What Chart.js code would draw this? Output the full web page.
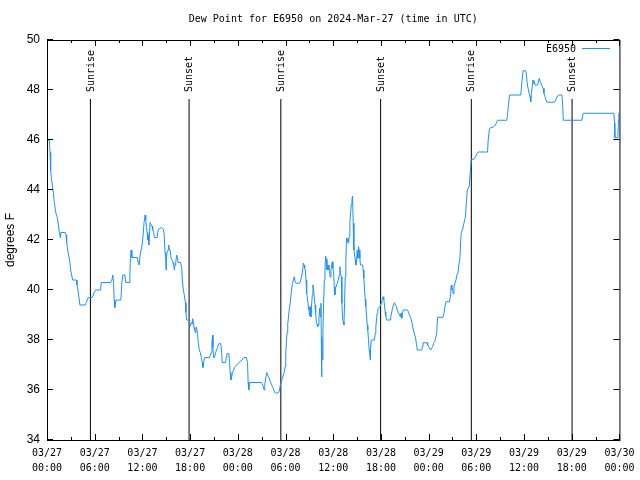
<!DOCTYPE html>
<html>
<head>
<meta charset="utf-8">
<title>Dew Point for E6950</title>
<script src="https://cdn.jsdelivr.net/npm/chart.js@4.4.1/dist/chart.umd.min.js"></script>
<style>
    html, body { margin: 0; padding: 0; background: #fff; }
    canvas { display: block; }
</style>
</head>
<body>
<canvas id="dewChart" width="640" height="480"></canvas>
<script>
// hours after 03/27 00:00 UTC
const hours = [
    0, 0.30, 0.38, 0.46, 0.55, 0.67, 0.80, 0.92, 1.05, 1.18, 1.30, 1.43, 1.55, 1.68, 1.72, 2.30, 2.39, 2.47, 2.60, 2.72,
    2.85, 2.97, 3.10, 3.22, 3.68, 3.77, 3.89, 4.02, 4.14, 4.81, 4.94, 5.06, 5.19, 5.69, 5.82, 5.94, 6.11, 6.74, 6.82, 7.99,
    8.16, 8.28, 8.37, 8.45, 8.53, 8.62, 8.74, 9.29, 9.41, 9.54, 9.79, 9.91, 10.33, 10.42, 10.50, 10.58, 10.67, 11.38, 11.46, 11.59,
    11.71, 11.84, 11.96, 12.09, 12.21, 12.34, 12.42, 12.51, 12.59, 12.67, 12.76, 12.80, 12.88, 12.97, 13.09, 13.22, 13.30, 13.43, 13.51, 13.85,
    13.97, 14.10, 14.39, 14.60, 14.72, 14.85, 14.93, 14.97, 15.02, 15.10, 15.22, 15.31, 15.39, 15.48, 15.60, 15.73, 15.85, 15.94, 16.02, 16.10,
    16.19, 16.31, 16.40, 16.48, 16.81, 16.94, 17.02, 17.15, 17.27, 17.40, 17.48, 17.57, 17.82, 17.94, 18.03, 18.15, 18.24, 18.32, 18.40, 18.49,
    18.57, 18.65, 18.74, 18.82, 18.90, 19.03, 19.15, 19.28, 19.41, 19.53, 19.61, 19.70, 19.82, 20.45, 20.54, 20.66, 20.74, 20.83, 20.87, 20.95,
    21.08, 21.20, 21.33, 21.45, 21.58, 21.87, 21.96, 22.04, 22.46, 22.54, 22.62, 22.88, 22.96, 23.04, 23.13, 23.21, 23.34, 23.46, 23.59, 23.71,
    24.13, 24.55, 24.76, 25.09, 25.22, 25.30, 25.38, 25.47, 26.97, 27.14, 27.31, 27.39, 27.52, 27.64, 27.77, 27.89, 28.02, 28.14, 28.27, 28.40,
    28.52, 28.65, 28.90, 29.15, 29.27, 29.36, 29.48, 29.61, 29.73, 29.86, 29.94, 30.03, 30.11, 30.19, 30.28, 30.40, 30.49, 30.61, 30.74, 30.86,
    30.99, 31.11, 31.20, 31.32, 31.78, 31.91, 32.03, 32.16, 32.24, 32.33, 32.41, 32.49, 32.58, 32.66, 32.79, 32.87, 32.95, 33.04, 33.12, 33.20,
    33.29, 33.37, 33.45, 33.54, 33.62, 33.71, 33.79, 33.87, 33.96, 34.04, 34.12, 34.21, 34.29, 34.37, 34.46, 34.50, 34.54, 34.58, 34.63, 34.71,
    34.79, 34.88, 34.96, 35.04, 35.13, 35.21, 35.29, 35.38, 35.46, 35.54, 35.63, 35.71, 35.80, 35.88, 35.96, 36.05, 36.13, 36.21, 36.30, 36.38,
    36.51, 36.63, 36.76, 36.84, 36.92, 37.01, 37.09, 37.18, 37.26, 37.34, 37.43, 37.51, 37.59, 37.68, 37.76, 37.85, 37.93, 38.01, 38.10, 38.18,
    38.26, 38.35, 38.43, 38.51, 38.60, 38.68, 38.77, 38.85, 38.93, 39.02, 39.10, 39.18, 39.27, 39.35, 39.43, 39.69, 39.77, 39.85, 39.94, 40.02,
    40.10, 40.19, 40.27, 40.35, 40.44, 40.52, 40.60, 40.65, 40.69, 40.77, 41.19, 41.27, 41.36, 41.44, 41.52, 41.61, 41.69, 41.86, 42.03, 42.11,
    42.19, 42.28, 42.36, 42.44, 42.53, 42.61, 42.70, 43.16, 43.24, 43.37, 43.45, 43.57, 43.70, 43.82, 43.95, 44.07, 44.20, 44.33, 44.45, 44.53,
    44.62, 44.70, 44.79, 45.33, 45.46, 45.58, 45.71, 45.83, 45.96, 46.08, 46.21, 46.33, 46.46, 46.58, 47.13, 47.21, 47.29, 47.80, 47.88, 48.26,
    48.38, 48.51, 48.63, 48.76, 48.88, 49.01, 49.13, 49.80, 49.93, 50.05, 50.18, 50.64, 50.77, 50.85, 50.93, 51.02, 51.10, 51.18, 51.31, 51.44,
    51.56, 51.69, 51.81, 51.94, 52.02, 52.10, 52.31, 52.44, 52.56, 52.65, 52.73, 52.86, 52.98, 53.11, 53.23, 53.36, 53.69, 53.90, 54.11, 54.24,
    55.41, 55.49, 55.66, 56.20, 56.41, 56.54, 56.66, 57.83, 57.92, 58.00, 58.17, 59.59, 59.71, 59.88, 60.22, 60.30, 60.42, 60.51, 60.63, 60.76,
    60.84, 60.93, 61.05, 61.13, 61.22, 61.30, 61.39, 61.72, 61.85, 61.93, 62.01, 62.14, 62.26, 62.39, 62.51, 62.64, 62.77, 62.89, 63.85, 64.02,
    64.19, 64.36, 64.77, 64.86, 64.94, 67.28, 67.37, 67.45, 71.30, 71.38, 71.42, 71.80, 71.88, 71.92, 72
]

const dewPoint = [
    46.0, 46.0, 45.5, 44.8, 44.5, 44.2, 43.9, 43.5, 43.2, 43.0, 42.9, 42.6, 42.3, 42.1, 42.3, 42.3, 42.2, 41.9, 41.6, 41.4,
    41.2, 40.8, 40.6, 40.4, 40.4, 40.2, 40.0, 39.7, 39.4, 39.4, 39.5, 39.6, 39.7, 39.7, 39.8, 39.9, 40.0, 40.0, 40.3, 40.3,
    40.4, 40.6, 40.3, 39.6, 39.3, 39.5, 39.6, 39.6, 40.3, 40.6, 40.6, 40.3, 40.3, 40.6, 41.3, 41.6, 41.3, 41.3, 41.1, 41.0,
    41.4, 41.6, 41.8, 42.2, 42.7, 43.0, 42.8, 42.5, 42.3, 42.0, 42.2, 41.8, 42.2, 42.7, 42.6, 42.55, 42.4, 42.3, 42.1, 42.1,
    42.4, 42.45, 42.5, 42.45, 42.3, 41.5, 41.3, 40.8, 41.3, 41.5, 41.6, 41.8, 41.6, 41.6, 41.3, 41.2, 41.1, 41.0, 40.8, 41.0,
    41.1, 41.4, 41.3, 41.1, 41.1, 40.9, 40.4, 40.0, 39.8, 39.5, 39.1, 38.8, 38.8, 38.7, 38.55, 38.7, 38.65, 38.85, 38.7, 38.5,
    38.4, 38.3, 38.5, 38.5, 38.3, 37.9, 37.6, 37.5, 37.3, 37.1, 36.9, 37.1, 37.3, 37.3, 37.4, 37.5, 37.9, 38.2, 37.7, 37.3,
    37.3, 37.5, 37.6, 37.7, 37.85, 37.85, 37.5, 37.1, 37.1, 37.3, 37.45, 37.45, 37.1, 36.7, 36.4, 36.5, 36.7, 36.8, 36.9, 36.95,
    37.1, 37.2, 37.3, 37.3, 37.1, 36.3, 36.0, 36.3, 36.3, 36.2, 36.0, 36.2, 36.5, 36.7, 36.6, 36.5, 36.4, 36.3, 36.2, 36.1,
    36.0, 35.9, 35.87, 35.9, 36.07, 36.2, 36.33, 36.47, 36.6, 36.73, 36.93, 37.47, 37.93, 38.27, 38.64, 39.0, 39.27, 39.53, 39.93, 40.27,
    40.4, 40.53, 40.33, 40.27, 40.27, 40.4, 40.53, 40.8, 41.07, 41.0, 40.87, 40.8, 40.4, 39.87, 39.6, 39.33, 39.2, 38.96, 39.33, 38.93,
    39.47, 39.8, 40.2, 40.0, 39.67, 39.4, 39.09, 38.73, 38.64, 38.53, 38.6, 38.93, 39.27, 38.93, 39.47, 38.0, 36.53, 38.13, 37.2, 38.4,
    39.47, 40.4, 40.8, 41.36, 41.23, 40.8, 40.93, 41.0, 40.8, 40.73, 40.51, 40.8, 40.96, 41.13, 40.87, 40.73, 40.13, 39.8, 40.07, 40.16,
    40.27, 40.4, 40.6, 40.93, 40.67, 40.53, 39.47, 38.87, 38.73, 38.6, 39.47, 40.53, 41.2, 42.07, 41.93, 42.07, 41.87, 42.13, 42.73, 43.07,
    43.4, 43.6, 43.76, 42.67, 41.6, 41.4, 41.2, 41.0, 41.2, 41.6, 41.27, 41.73, 41.6, 41.27, 41.0, 41.0, 40.8, 40.47, 40.0, 39.63,
    39.33, 39.0, 38.6, 38.4, 38.0, 37.6, 37.47, 37.2, 37.6, 38.0, 38.0, 38.27, 38.53, 38.8, 39.07, 39.2, 39.27, 39.33, 39.47, 39.53,
    39.63, 39.73, 39.63, 39.4, 39.13, 38.96, 38.8, 38.8, 38.93, 39.13, 39.27, 39.4, 39.49, 39.4, 39.33, 39.2, 39.09, 39.0, 38.93, 39.07,
    38.87, 39.07, 39.2, 39.2, 39.13, 39.0, 38.91, 38.8, 38.6, 38.4, 38.24, 38.13, 37.87, 37.6, 37.6, 37.73, 37.89, 37.89, 37.8, 37.6,
    37.67, 37.73, 37.87, 37.93, 38.07, 38.27, 38.91, 38.91, 39.07, 39.33, 39.53, 39.53, 39.87, 40.2, 40.0, 40.03, 39.84, 40.07, 40.27, 40.4,
    40.6, 40.69, 41.04, 41.27, 41.93, 42.27, 42.47, 42.67, 42.83, 43.0, 43.47, 44.0, 44.07, 44.16, 44.69, 45.23, 45.23, 45.33, 45.47, 45.52,
    45.52, 46.0, 46.47, 46.53, 46.6, 46.71, 46.79, 46.79, 47.0, 47.27, 47.8, 47.8, 48.27, 48.77, 48.77, 48.6, 48.2, 48.07, 47.87, 47.76,
    47.53, 47.87, 48.16, 48.4, 48.27, 48.33, 48.2, 48.2, 48.4, 48.47, 48.33, 48.27, 48.16, 48.07, 47.87, 47.73, 47.6, 47.51, 47.51, 47.63,
    47.76, 47.8, 47.8, 47.33, 46.79, 46.79, 46.96, 47.07, 47.07, 46.67, 46.09, 46.09, 46.8, 47.07, 47.07
]

const sunHours = [5.46, 17.87, 29.41, 41.96, 53.37, 66.04]
const sunLabels = ['Sunrise', 'Sunset', 'Sunrise', 'Sunset', 'Sunrise', 'Sunset']

const yTicks = [34, 36, 38, 40, 42, 44, 46, 48, 50]
const xTickHours = [0, 6, 12, 18, 24, 30, 36, 42, 48, 54, 60, 66, 72]
const xTickLabels = [
    ['03/27', '00:00'], ['03/27', '06:00'], ['03/27', '12:00'], ['03/27', '18:00'],
    ['03/28', '00:00'], ['03/28', '06:00'], ['03/28', '12:00'], ['03/28', '18:00'],
    ['03/29', '00:00'], ['03/29', '06:00'], ['03/29', '12:00'], ['03/29', '18:00'],
    ['03/30', '00:00']
]

const lineColor = '#1E90FF'
const monoFont = "'DejaVu Sans Mono', 'Liberation Mono', monospace"
const sansFont = "'Liberation Sans', Arial, sans-serif"
const sunLineTop = 47.64

// frame, mirrored tics, sun labels and key drawn like gnuplot does
const gnuplotFrame = {
    id: 'gnuplotFrame',
    afterDraw(chart) {
        const { ctx, chartArea: a, scales } = chart
        const x = scales.x
        const y = scales.y

        ctx.save()
        ctx.strokeStyle = '#000'
        ctx.lineWidth = 1
        ctx.strokeRect(a.left + 0.5, a.top + 0.5, a.right - a.left, a.bottom - a.top)

        ctx.beginPath()
        yTicks.forEach((v) => {
            const py = Math.round(y.getPixelForValue(v)) - 0.5
            ctx.moveTo(a.left, py)
            ctx.lineTo(a.left + 6, py)
            ctx.moveTo(a.right, py)
            ctx.lineTo(a.right - 6, py)
        })
        for (let h = 0; h <= 72; h += 3) {
            const px = Math.round(x.getPixelForValue(h)) + 0.5
            const len = h % 6 === 0 ? 6 : 3
            ctx.moveTo(px, a.bottom)
            ctx.lineTo(px, a.bottom - len)
            ctx.moveTo(px, a.top)
            ctx.lineTo(px, a.top + len)
        }
        ctx.stroke()

        // Sunrise / Sunset labels
        ctx.fillStyle = '#000'
        ctx.font = '10px ' + monoFont
        ctx.textAlign = 'left'
        ctx.textBaseline = 'middle'
        sunHours.forEach((h, i) => {
            const px = x.getPixelForValue(h)
            ctx.save()
            ctx.translate(px + 0.5, 92)
            ctx.rotate(-Math.PI / 2)
            ctx.fillText(sunLabels[i], 0, 0)
            ctx.restore()
        })

        // key
        ctx.textAlign = 'right'
        ctx.fillText(chart.data.datasets[0].label, 576, 49)
        ctx.strokeStyle = lineColor
        ctx.beginPath()
        ctx.moveTo(582, 48.5)
        ctx.lineTo(610, 48.5)
        ctx.stroke()
        ctx.restore()
    }
}

const datasets = [
    {
        label: 'E6950',
        data: hours.map((h, i) => ({ x: h, y: dewPoint[i] })),
        borderColor: lineColor,
        borderWidth: 1,
        pointRadius: 0,
        tension: 0,
        fill: false
    }
]

sunHours.forEach((h, i) => {
    datasets.push({
        label: sunLabels[i],
        data: [
            { x: h, y: 34 },
            { x: h, y: sunLineTop }
        ],
        borderColor: '#000',
        borderWidth: 1,
        pointRadius: 0,
        fill: false
    })
})

new Chart(document.getElementById('dewChart'), {
    type: 'line',
    data: { datasets },
    options: {
        responsive: false,
        animation: false,
        devicePixelRatio: 1,
        layout: {
            padding: { top: 0, right: 19, bottom: 0, left: 0 }
        },
        plugins: {
            legend: { display: false },
            tooltip: { enabled: false },
            title: {
                display: true,
                fullSize: false,
                text: 'Dew Point for E6950 on 2024-Mar-27 (time in UTC)',
                color: '#000',
                font: { family: monoFont, size: 10, weight: 'normal', lineHeight: 1.2 },
                padding: { top: 13, bottom: 15 }
            }
        },
        scales: {
            x: {
                type: 'linear',
                min: 0,
                max: 72,
                grid: { display: false, drawTicks: false },
                border: { display: false },
                afterBuildTicks: (scale) => {
                    scale.ticks = xTickHours.map((v) => ({ value: v }))
                },
                afterFit: (scale) => {
                    scale.height = 40
                },
                ticks: {
                    autoSkip: false,
                    maxRotation: 0,
                    minRotation: 0,
                    padding: 5.5,
                    color: '#000',
                    font: { family: monoFont, size: 10, lineHeight: 1.5 },
                    callback: (v) => xTickLabels[xTickHours.indexOf(v)]
                }
            },
            y: {
                min: 34,
                max: 50,
                grid: { display: false, drawTicks: false },
                border: { display: false },
                afterBuildTicks: (scale) => {
                    scale.ticks = yTicks.map((v) => ({ value: v }))
                },
                afterFit: (scale) => {
                    scale.width = 47
                },
                ticks: {
                    padding: 7,
                    color: '#000',
                    font: { family: sansFont, size: 12 }
                },
                title: {
                    display: true,
                    text: 'degrees F',
                    color: '#000',
                    font: { family: sansFont, size: 12, lineHeight: 1.2 },
                    padding: { top: 3, bottom: 0 }
                }
            }
        }
    },
    plugins: [gnuplotFrame]
})
</script>
</body>
</html>
